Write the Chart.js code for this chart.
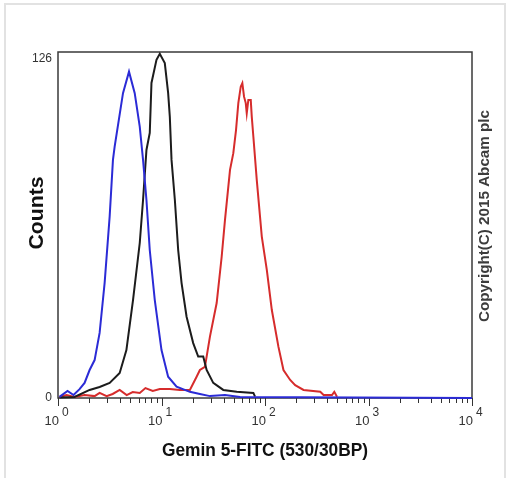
<html lang="en">
<head>
    <meta charset="UTF-8">
    <title>Gemin 5-FITC histogram</title>
    <script src="https://cdn.jsdelivr.net/npm/chart.js"></script>
    <style>
        body { margin: 0; background: #fff; }
        #frame {
            position: absolute;
            left: 4px; top: 3px;
            width: 498px; height: 478px;
            border: 2px solid #e2e2e2;
            border-bottom: none;
        }
        #histChart { position: absolute; left: 0; top: 0; }
    </style>
</head>
<body>
    <div id="frame"></div>
    <canvas id="histChart" width="506" height="478"></canvas>

    <script>
        // blue histogram
        const blueX = [1.034, 1.236, 1.413, 1.615, 1.806, 2.02, 2.258, 2.524, 2.822, 3.155, 3.396, 3.527, 4.246, 4.853,
            5.511, 6.163, 6.632, 7.155, 7.701, 8.612, 10.0, 11.59, 13.98, 18.8, 23.5, 29.38, 41.06, 57.37, 10000];
        const blueY = [0.4, 2.6, 1.1, 3.3, 5.6, 10.4, 14.1, 24.2, 42.8, 67.4, 88.5, 93.4, 113.3, 121.3,
            113.3, 100.9, 88.5, 73.6, 55.0, 36.4, 17.8, 7.9, 4.2, 2.3, 1.5, 0.7, 1.1, 0.4, 0];

        // black histogram
        const blackX = [1.034, 1.445, 2.02, 2.524, 3.155, 3.944, 4.58, 5.306, 6.163, 6.632, 7.155, 7.701, 8.0, 8.943,
            9.627, 10.76, 11.59, 12.03, 12.5, 13.46, 14.49, 15.62, 17.47, 20.24, 22.63, 25.3, 27.29, 31.62, 39.54,
            53.3, 77.2, 80.18];
        const blackY = [0.2, 0.4, 3.0, 4.1, 5.6, 9.3, 17.8, 36.4, 57.6, 73.6, 92.2, 98.5, 117.1, 125.7,
            127.9, 124.5, 113.4, 104.6, 88.5, 73.6, 55.0, 42.8, 30.2, 20.4, 15.4, 15.4, 10.4, 5.6, 3.0,
            2.3, 1.9, 0.5];

        // red histogram
        const redX = [1.034, 1.209, 1.445, 1.806, 2.258, 2.524, 2.951, 3.374, 3.944, 4.611, 5.272, 6.163, 6.998, 8.236,
            9.627, 12.03, 15.04, 18.8, 21.84, 23.5, 26.28, 29.38, 34.12, 38.14, 41.06, 45.91, 49.41, 52.48, 55.24,
            58.29, 60.4, 62.74, 65.16, 66.62, 69.05, 72.84, 74.49, 77.2, 83.29, 93.11, 104.1, 116.4, 134.9, 150.8,
            175.1, 195.7, 235.6, 342.0, 368.1, 443.9, 467.3, 496.3];
        const redY = [0.4, 1.1, 0.4, 1.1, 0.7, 1.9, 0.7, 1.5, 3.0, 1.1, 2.2, 1.9, 3.7, 2.6,
            3.3, 3.3, 3.0, 3.0, 7.9, 10.4, 11.6, 22.8, 35.3, 52.5, 66.2, 84.8, 91.0, 99.6, 109.6,
            115.7, 117.0, 112.0, 109.6, 105.8, 110.8, 110.8, 104.6, 97.1, 81.0, 60.0, 47.6, 32.7, 19.0, 10.4,
            6.7, 4.8, 3.0, 2.3, 1.1, 1.1, 2.3, 0.5];

        const yTicks = [0, 126];
        const xDecades = [0, 1, 2, 3, 4];
        const xTitle = 'Gemin 5-FITC (530/30BP)';
        const yTitle = 'Counts';
        const copyright = 'Copyright(C) 2015 Abcam plc';

        function points(xs, ys) {
            return xs.map((x, i) => ({ x: x, y: ys[i] }));
        }

        // text squeezed/stretched to a given length, like the condensed font in the original
        function fitText(ctx, text, x, y, angle, font, length, color) {
            ctx.save();
            ctx.font = font;
            ctx.fillStyle = color;
            ctx.textAlign = 'center';
            ctx.textBaseline = 'middle';
            const w = ctx.measureText(text).width;
            ctx.translate(x, y);
            ctx.rotate(angle);
            ctx.scale(length / w, 1);
            ctx.fillText(text, 0, 0);
            ctx.restore();
        }

        const decor = {
            id: 'decor',
            beforeDatasetsDraw(chart) {
                const ctx = chart.ctx;
                const a = chart.chartArea;
                const xs = chart.scales.x;
                ctx.save();
                ctx.strokeStyle = '#3a3a3a';
                ctx.lineWidth = 1.5;
                ctx.strokeRect(a.left, a.top, a.right - a.left, a.bottom - a.top);

                ctx.lineWidth = 1;
                ctx.strokeStyle = '#333';
                xDecades.forEach(d => {
                    const steps = d < xDecades[xDecades.length - 1] ? [1, 2, 3, 4, 5, 6, 7, 8, 9] : [1];
                    steps.forEach(m => {
                        const px = Math.round(xs.getPixelForValue(m * Math.pow(10, d))) + 0.5;
                        ctx.beginPath();
                        ctx.moveTo(px, a.bottom);
                        ctx.lineTo(px, a.bottom + (m === 1 ? 8 : 5));
                        ctx.stroke();
                    });
                });
                ctx.restore();
            },
            afterDraw(chart) {
                const ctx = chart.ctx;
                const a = chart.chartArea;
                const xs = chart.scales.x;
                ctx.save();
                ctx.fillStyle = '#333';
                xDecades.forEach(d => {
                    const px = xs.getPixelForValue(Math.pow(10, d));
                    ctx.font = '13px "Liberation Sans", Arial, sans-serif';
                    ctx.textAlign = 'right';
                    ctx.textBaseline = 'alphabetic';
                    ctx.fillText('10', px + 1, a.bottom + 27);
                    ctx.font = '12px "Liberation Sans", Arial, sans-serif';
                    ctx.textAlign = 'left';
                    ctx.fillText(String(d), px + 4, a.bottom + 18);
                });
                ctx.restore();

                fitText(ctx, xTitle, 265, 451, 0, 'bold 19px "Liberation Sans", Arial, sans-serif', 206, '#111');
                fitText(ctx, yTitle, 37.5, 213, -Math.PI / 2, 'bold 20px "Liberation Sans", Arial, sans-serif', 73, '#111');
                fitText(ctx, copyright, 485.5, 216, -Math.PI / 2, 'bold 14px "Liberation Sans", Arial, sans-serif', 212, '#3c3c3c');
            }
        };

        const ctx = document.getElementById('histChart').getContext('2d');
        window.histChart = new Chart(ctx, {
            type: 'line',
            data: {
                datasets: [
                    { data: points(blueX, blueY), borderColor: '#2b2bd6', borderWidth: 2, pointRadius: 0, tension: 0, clip: false },
                    { data: points(blackX, blackY), borderColor: '#1c1c1c', borderWidth: 2, pointRadius: 0, tension: 0, clip: false },
                    { data: points(redX, redY), borderColor: '#d62c2c', borderWidth: 2, pointRadius: 0, tension: 0, clip: false }
                ]
            },
            options: {
                responsive: false,
                animation: false,
                layout: { padding: { top: 52, right: 34, left: 0, bottom: 0 } },
                plugins: {
                    legend: { display: false },
                    tooltip: { enabled: false }
                },
                scales: {
                    x: {
                        type: 'logarithmic',
                        min: 1,
                        max: 10000,
                        grid: { display: false, drawTicks: false },
                        border: { display: false },
                        ticks: { display: false },
                        afterFit: function(scale) { scale.height = 80; }
                    },
                    y: {
                        min: 0,
                        max: 128.6,
                        grid: { display: false, drawTicks: false },
                        border: { display: false },
                        afterBuildTicks: function(scale) {
                            scale.ticks = yTicks.map(v => ({ value: v }));
                        },
                        ticks: {
                            color: '#333',
                            padding: 6,
                            font: { family: 'Liberation Sans', size: 12 }
                        },
                        afterFit: function(scale) { scale.width = 58; }
                    }
                }
            },
            plugins: [decor]
        });
    </script>
</body>
</html>
